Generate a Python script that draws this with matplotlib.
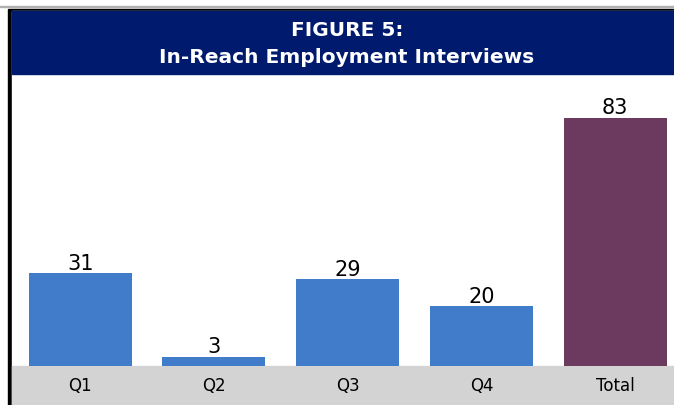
import matplotlib.pyplot as plt
from matplotlib.patches import Rectangle

categories = ['Q1', 'Q2', 'Q3', 'Q4', 'Total']
values = [31, 3, 29, 20, 83]
colors = ['#407cca', '#407cca', '#407cca', '#407cca', '#6b3a5e']

W, H = 674, 406
fig = plt.figure(figsize=(W / 100, H / 100), dpi=100)

def px(x0, y0, x1, y1):
    # pixel box (top-left origin) -> figure fraction rect
    return [x0 / W, 1 - y1 / H, (x1 - x0) / W, (y1 - y0) / H]

def box(x0, y0, x1, y1, color):
    r = px(x0, y0, x1, y1)
    fig.patches.append(Rectangle((r[0], r[1]), r[2], r[3], transform=fig.transFigure,
                                 color=color, zorder=-5))

# frame: thin gray top line, black border, navy title band, gray label band
box(0, 7, 674, 8, '#b0b0b0')
box(8, 10, 674, 406, 'black')
box(12, 12, 674, 406, 'white')
box(12, 12, 674, 75, '#001a6e')
box(12, 367, 674, 406, '#d3d3d3')

cx = (20 + 674) / 2 / W
fig.text(cx, 1 - 30 / H, 'FIGURE 5:', ha='center', va='center',
         color='white', fontsize=14.5, fontweight='bold', fontfamily='DejaVu Sans')
fig.text(cx, 1 - 58 / H, 'In-Reach Employment Interviews', ha='center', va='center',
         color='white', fontsize=14.5, fontweight='bold', fontfamily='DejaVu Sans')

ax = fig.add_axes(px(12, 75, 674, 367))
ax.set_facecolor('none')
x = range(len(categories))
bars = ax.bar(x, values, width=0.77, color=colors)
for b, v in zip(bars, values):
    ax.text(b.get_x() + b.get_width() / 2, v + 0.2, str(v), ha='center', va='bottom',
            fontsize=15, color='black')
ax.set_xlim(-0.51, 4.44)
ax.set_ylim(0, 97.7)
ax.set_yticks([])
ax.set_xticks(list(x))
ax.set_xticklabels(categories, fontsize=12)
ax.tick_params(axis='x', length=0, pad=7)
for s in ax.spines.values():
    s.set_visible(False)

fig.savefig('out.png', dpi=100)
